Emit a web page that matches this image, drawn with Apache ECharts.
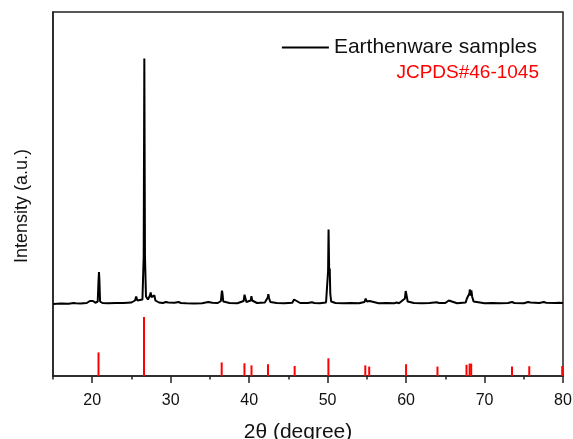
<!DOCTYPE html>
<html>
<head>
<meta charset="utf-8">
<script src="https://cdn.jsdelivr.net/npm/echarts@6/dist/echarts.min.js"></script>
<style>html,body{margin:0;padding:0;background:#fff}#c{width:573px;height:439px}</style>
</head>
<body>
<div id="c"></div>
<script>
// Measured XRD pattern of the earthenware samples: [2θ, intensity (counts, arbitrary)]
const sampleTheta = [15.0,16.0,17.0,17.6,17.75,17.9,18.5,19.3,19.7,19.9,20.1,20.4,20.7,20.8,20.86,20.92,21.0,21.3,22.0,23.0,24.0,25.0,25.45,25.6,25.75,26.0,26.4,26.56,26.64,26.72,26.85,27.1,27.35,27.45,27.55,27.8,27.92,28.05,28.5,29.0,29.4,29.55,29.7,30.5,31.0,31.3,32.0,33.0,34.0,34.8,35.0,35.3,36.0,36.4,36.49,36.54,36.6,36.7,37.5,38.5,39.3,39.41,39.46,39.52,39.65,40.2,40.29,40.38,41.0,42.0,42.37,42.45,42.53,42.7,43.5,44.5,45.5,45.72,45.8,45.88,46.5,47.5,48.0,48.3,49.0,49.8,50.06,50.12,50.2,50.27,50.34,50.45,51.0,52.0,53.0,54.0,54.7,54.85,55.0,55.35,55.6,56.5,57.5,58.5,58.8,59.1,59.85,59.95,60.05,60.2,61.0,62.0,63.0,63.9,64.2,65.0,65.45,65.55,65.68,66.5,67.6,67.75,67.9,68.07,68.12,68.22,68.32,68.42,68.6,70.0,71.0,72.0,73.0,73.5,73.8,75.0,75.55,75.7,75.85,77.0,77.55,77.7,77.85,79.0,79.5,80.0];
const sampleCounts = [288,290,289,292,298,291,290,292,300,306,300,293,298,380,416,380,298,292,291,292,292,294,302,318,302,298,306,480,1270,480,318,306,322,334,316,318,322,302,294,292,296,298,294,293,296,292,291,290,291,296,298,293,292,300,330,341,330,298,292,291,300,325,333,320,296,302,319,302,292,294,314,327,312,296,292,291,293,306,314,300,292,292,295,292,291,294,420,586,420,430,330,298,292,291,292,291,296,310,298,300,293,291,292,291,294,291,310,340,325,298,292,291,292,295,292,292,302,309,298,291,294,310,302,330,346,322,342,318,298,291,292,291,292,296,292,291,296,299,294,292,296,298,293,292,293,292];

// JCPDS#46-1045 reference lines: position (2θ) and relative intensity
const refTheta = [20.8,26.6,36.5,39.4,40.3,42.4,45.8,50.1,54.8,55.3,60.0,64.0,67.7,68.1,68.3,73.5,75.7,79.9];
const refIntensity = [40,100,23,21.5,18,20,17,30,18,16,20,16,19,21,21,16,16.5,17];

// Axis tick labels
const majorTicks = [20,30,40,50,60,70,80];
const minorTicks = [15,25,35,45,55,65,75];

const sampleData = sampleTheta.map((t,i)=>[t, sampleCounts[i]]);
const refData = refTheta.map((t,i)=>[t, refIntensity[i]]);

const FONT = "'Liberation Sans', Arial, sans-serif";
const chart = echarts.init(document.getElementById('c'), null, {renderer:'canvas'});
chart.setOption({
  animation: false,
  backgroundColor: '#fff',
  textStyle: {fontFamily: FONT},
  grid: {left: 53, right: 10, top: 12, bottom: 63, outerBoundsMode: 'none', containLabel: false,
         show: true, borderColor: '#222', borderWidth: 1.5, backgroundColor: 'transparent'},
  legend: {
    data: ['Earthenware samples'],
    right: 31, top: 32,
    icon: 'rect', itemWidth: 47, itemHeight: 2,
    itemStyle: {color: '#000'},
    textStyle: {fontSize: 21, color: '#111', fontFamily: FONT},
    selectedMode: false
  },
  graphic: [{
    type: 'text', right: 34, top: 63,
    style: {text: 'JCPDS#46-1045', fill: '#ff0000', fontSize: 19, fontFamily: FONT}
  }],
  xAxis: [{
    type: 'value', min: 15, max: 80, interval: 5, position: 'bottom',
    name: '2θ (degree)', nameLocation: 'middle', nameGap: 46,
    nameTextStyle: {fontSize: 21, color: '#111', fontFamily: FONT, padding: [0, 20, 0, 0]},
    axisLine: {show: true, lineStyle: {color: '#222', width: 1.5}},
    axisTick: {show: true, inside: false, length: 7, customValues: majorTicks, lineStyle: {color: '#222', width: 1.5}},
    axisLabel: {show: true, customValues: majorTicks, fontSize: 16, color: '#111', margin: 17, fontFamily: FONT},
    splitLine: {show: false}
  }, {
    type: 'value', min: 15, max: 80, interval: 5, position: 'bottom',
    axisLine: {show: false},
    axisTick: {show: true, inside: false, length: 3.5, customValues: minorTicks, lineStyle: {color: '#222', width: 1.5}},
    axisLabel: {show: false},
    splitLine: {show: false}
  }],
  yAxis: [{
    type: 'value', min: 0, max: 617, position: 'left',
    name: 'Intensity (a.u.)', nameLocation: 'middle', nameGap: 22, nameRotate: 90,
    nameTextStyle: {fontSize: 18, color: '#111', fontFamily: FONT, padding: [0, 24, 0, 0]},
    axisLine: {show: true, lineStyle: {color: '#222', width: 1.5}},
    axisTick: {show: false}, axisLabel: {show: false}, splitLine: {show: false}
  }, {
    type: 'value', min: 0, max: 1456, position: 'right', show: false,
    splitLine: {show: false}
  }],
  series: [{
    name: 'Earthenware samples', type: 'line', xAxisIndex: 0, yAxisIndex: 1,
    data: sampleData, symbol: 'none', smooth: false,
    lineStyle: {color: '#000', width: 2}, itemStyle: {color: '#000'}
  }, {
    name: 'JCPDS#46-1045', type: 'bar', xAxisIndex: 0, yAxisIndex: 0,
    data: refData, barWidth: 2,
    itemStyle: {color: '#ff0000'}
  }]
});
</script>
</body>
</html>
